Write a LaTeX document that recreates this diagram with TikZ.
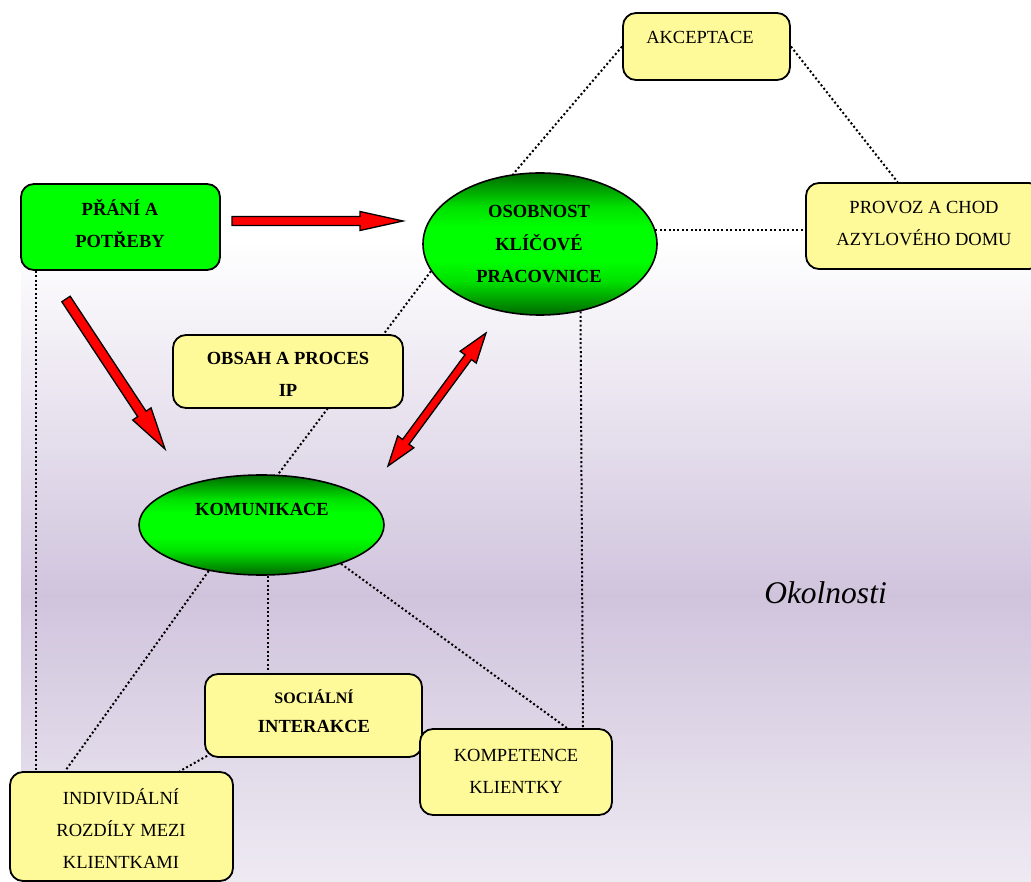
\documentclass[tikz,border=0pt]{standalone}
\usepackage{fontspec}
\setmainfont{Liberation Serif}
\usetikzlibrary{calc,shapes.geometric}
\definecolor{boxyellow}{RGB}{255,250,153}
\definecolor{boxgreen}{RGB}{0,255,0}
\definecolor{dkgreenA}{RGB}{0,105,0}
\definecolor{midgreen}{RGB}{0,225,0}
\definecolor{lav}{RGB}{208,196,221}
\definecolor{lavlight}{RGB}{238,234,242}
\definecolor{bgtop}{RGB}{255,255,255}
\pgfdeclareverticalshading{ellgreen}{100bp}{color(0bp)=(dkgreenA); color(25bp)=(dkgreenA); color(37bp)=(midgreen); color(44bp)=(boxgreen); color(56bp)=(boxgreen); color(63bp)=(midgreen); color(75bp)=(dkgreenA); color(100bp)=(dkgreenA)}
\pgfdeclarelayer{bg}
\pgfdeclarelayer{lines}
\pgfsetlayers{bg,lines,main}
\newcommand{\blockarr}[5]{%
  \draw[redarr] let \p1=(#1), \p2=(#2), \n1={atan2(\y2-\y1,\x2-\x1)} in
    ($(\p1)+(\n1+90:#3pt)$) -- ($(\p2)+(\n1+180:#5pt)+(\n1+90:#3pt)$)
    -- ($(\p2)+(\n1+180:#5pt)+(\n1+90:#4pt)$) -- (\p2)
    -- ($(\p2)+(\n1+180:#5pt)+(\n1-90:#4pt)$) -- ($(\p2)+(\n1+180:#5pt)+(\n1-90:#3pt)$)
    -- ($(\p1)+(\n1-90:#3pt)$) -- cycle;}
\newcommand{\dblarr}[5]{%
  \draw[redarr] let \p1=(#1), \p2=(#2), \n1={atan2(\y2-\y1,\x2-\x1)} in
    (\p1) -- ($(\p1)+(\n1:#5pt)+(\n1+90:#4pt)$) -- ($(\p1)+(\n1:#5pt)+(\n1+90:#3pt)$)
    -- ($(\p2)+(\n1+180:#5pt)+(\n1+90:#3pt)$) -- ($(\p2)+(\n1+180:#5pt)+(\n1+90:#4pt)$)
    -- (\p2)
    -- ($(\p2)+(\n1+180:#5pt)+(\n1-90:#4pt)$) -- ($(\p2)+(\n1+180:#5pt)+(\n1-90:#3pt)$)
    -- ($(\p1)+(\n1:#5pt)+(\n1-90:#3pt)$) -- ($(\p1)+(\n1:#5pt)+(\n1-90:#4pt)$) -- cycle;}
\tikzset{
  every node/.style={font=\fontsize{18.5}{32}\selectfont},
  ybox/.style={draw=black, line width=1.8pt, rounded corners=13pt, fill=boxyellow, inner sep=0pt},
  gbox/.style={ybox, fill=boxgreen},
  gell/.style={ellipse, draw=black, line width=1.6pt, shade, shading=ellgreen, inner sep=0pt},
  dotline/.style={line width=2pt, dash pattern=on 2pt off 2.4pt},
  txt/.style={align=center, inner sep=0pt},
  btxt/.style={txt, font=\fontsize{18.5}{32}\selectfont\bfseries},
  redarr/.style={fill=red, draw=black, line width=1.3pt, line join=miter},
}
\begin{document}
\begin{tikzpicture}[x=1pt, y=-1pt]
\useasboundingbox (0,0) rectangle (1031,882);
\clip (0,0) rectangle (1031,882);
\begin{pgfonlayer}{bg}
  \fill[white] (0,0) rectangle (1031,882);
  \fill[top color=bgtop, bottom color=lav] (21,240) rectangle (1031,596);
  \fill[top color=lav, bottom color=lavlight] (21,595) rectangle (1031,882);
\end{pgfonlayer}

% boxes
\node[ybox, minimum width=167pt, minimum height=67pt] (akc) at (706.5,46.5) {};
\node[gbox, minimum width=199pt, minimum height=86pt] (prani) at (120.5,227) {};
\node[gell, minimum width=234pt, minimum height=142pt] (osob) at (540,244) {};
\node[ybox, minimum width=236pt, minimum height=86pt] (provoz) at (924,226) {};
\node[ybox, minimum width=230pt, minimum height=73pt] (obsah) at (288,371.5) {};
\node[gell, minimum width=245pt, minimum height=100pt] (komun) at (261.5,525) {};
\node[ybox, minimum width=217pt, minimum height=83pt] (soc) at (313.5,715.5) {};
\node[ybox, minimum width=192pt, minimum height=86pt] (komp) at (516,772) {};
\node[ybox, minimum width=223pt, minimum height=109pt] (indiv) at (121.5,826.5) {};

% texts
\node[txt] (akc-t) at (700,37) {AKCEPTACE};
\node[btxt] (prani-t) at (120,224) {PŘÁNÍ A\\POTŘEBY};
\node[btxt, font=\fontsize{18.5}{32.5}\selectfont\bfseries] (osob-t) at (539,244.5) {OSOBNOST\\KLÍČOVÉ\\PRACOVNICE};
\node[txt] (provoz-t) at (924,224) {PROVOZ A CHOD\\AZYLOVÉHO DOMU};
\node[btxt] (obsah-t) at (288,374.5) {OBSAH A PROCES\\IP};
\node[btxt] (komun-t) at (262,509) {KOMUNIKACE};
\node[btxt, font=\fontsize{18.5}{29}\selectfont\bfseries] (soc-t) at (314,711) {{\fontsize{16}{29}\selectfont SOCIÁLNÍ}\\INTERAKCE};
\node[txt] (komp-t) at (516,771) {KOMPETENCE\\KLIENTKY};
\node[txt] (indiv-t) at (121,829) {INDIVIDÁLNÍ\\ROZDÍLY MEZI\\KLIENTKAMI};
\node[font=\fontsize{31.5}{36}\selectfont\itshape, inner sep=0pt] (okol) at (825.5,593) {Okolnosti};

% dotted connectors
\begin{pgfonlayer}{lines}
  \draw[dotline] (akc.west) -- (osob.111);
  \draw[dotline] (akc.east) -- (provoz.121);
  \draw[dotline] (osob.7) -- (provoz.west |- osob.7);
  \coordinate (p1) at ($(prani.south west)+(16,0)$);
  \draw[dotline] (p1) -- (p1 |- indiv.north);
  \draw[dotline] (osob.194) -- (komun.72);
  \draw[dotline] (osob.301) -- ($(komp.north)+(67,0)$);
  \draw[dotline] (komun.221) -- ($(indiv.north west)+(56,0)$);
  \coordinate (k1) at ($(komun.south)+(6.5,0)$);
  \draw[dotline] (k1) -- (k1 |- soc.north);
  \draw[dotline] (komun.334) -- ($(komp.north)+(51,0)$);
  \draw[dotline] ($(soc.south west)+(3,-2)$) -- ($(indiv.north east)+(-54,0)$);
\end{pgfonlayer}

% red block arrows
\coordinate (a1s) at (232,221);
\coordinate (a1t) at (403,221);
\coordinate (a2s) at (66,299);
\coordinate (a2t) at (165,449);
\coordinate (a3s) at (388,466);
\coordinate (a3t) at (486,333);
\blockarr{a1s}{a1t}{4.5}{9.5}{43}
\blockarr{a2s}{a2t}{5}{11}{42}
\dblarr{a3s}{a3t}{4}{10}{30}
\end{tikzpicture}
\end{document}
